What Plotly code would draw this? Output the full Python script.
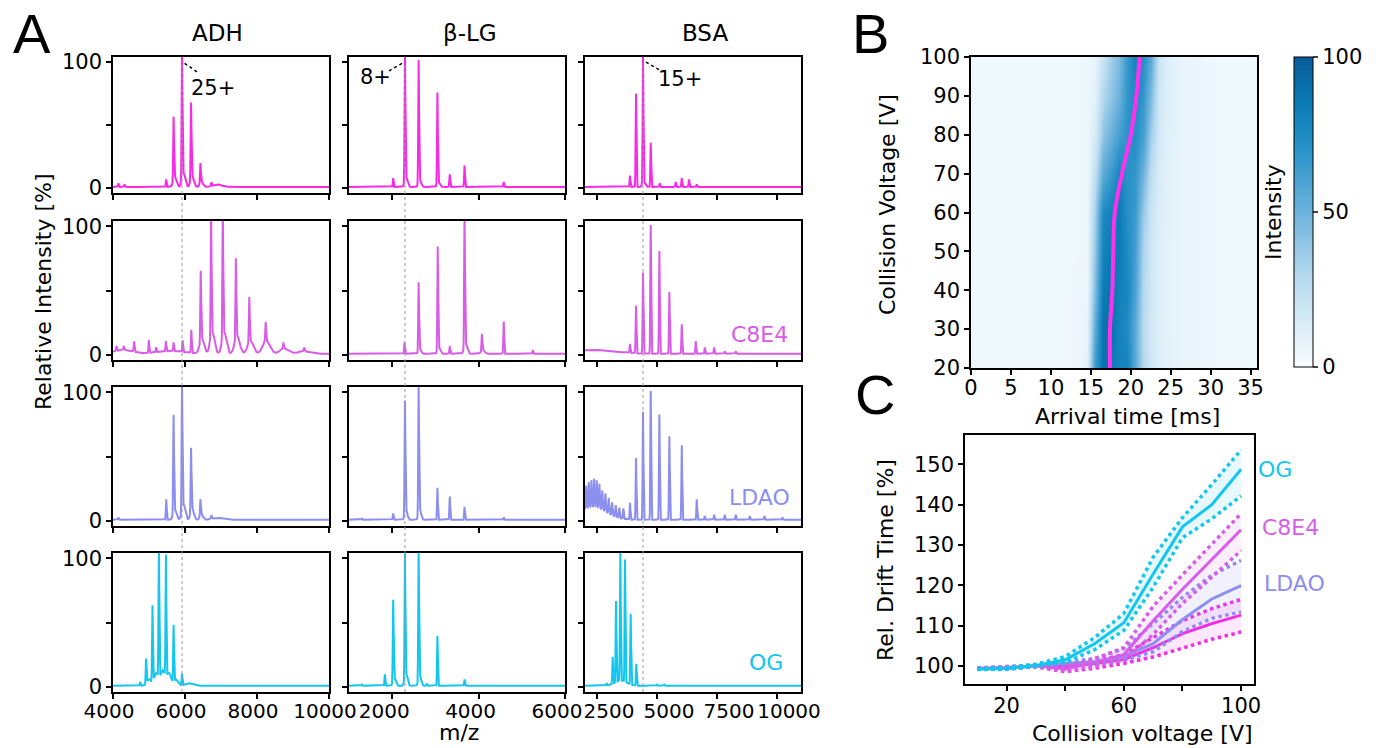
import numpy as np
import plotly.graph_objects as go

W, H = 1380, 748


def px(x):
    return x / W


def py(y):
    return 1 - y / H


# colours of the four conditions
c_ctrl = '#f72ae6'
c_c8e4 = '#d95ce8'
c_ldao = '#8c8ef0'
c_og = '#12c6ee'
row_colors = [c_ctrl, c_c8e4, c_ldao, c_og]

proteins = ['ADH', 'β-LG', 'BSA']

# ---------------- PANEL A: spectra, peak tables (m/z, rel. intensity) --------
# ADH
adh_ctrl = [(4150, 3), (4320, 2), (5479, 6), (5683, 50), (5917, 100), (6168, 60), (6428, 16), (6734, 3)]
adh_ctrl_hump = [(5720, 8, 45), (5960, 11, 45), (6200, 9, 45), (6460, 4, 45), (6900, 2, 120)]
adh_c8e4 = [(4100, 4), (4300, 3), (4586, 8), (4995, 10), (5200, 4), (5470, 8), (5683, 7), (5935, 9),
            (6176, 18), (6437, 54), (6725, 100), (7050, 100), (7413, 62), (7786, 35), (8241, 15),
            (8734, 5), (9310, 3)]
adh_c8e4_hump = [(4300, 3, 250), (5600, 2, 400), (6470, 12, 60), (6760, 17, 60), (7090, 17, 60),
                 (7450, 14, 70), (7820, 10, 80), (8260, 10, 100), (8760, 4, 120), (9300, 2, 150)]
adh_ldao = [(4150, 2), (5479, 16), (5683, 76), (5917, 100), (6168, 49), (6428, 13), (6734, 3)]
adh_ldao_hump = [(5720, 8, 45), (5960, 12, 45), (6200, 9, 45), (6460, 4, 45), (6900, 1.5, 150)]
adh_og = [(4753, 3), (4921, 19), (5097, 59), (5275, 100), (5470, 94), (5683, 44), (5917, 9)]
adh_og_hump = [(5000, 5, 60), (5200, 10, 60), (5380, 12, 60), (5550, 10, 60), (5750, 5, 60), (6100, 2, 100)]

# beta-lactoglobulin
blg_ctrl = [(2023, 7), (2295, 100), (2612, 97), (3047, 72), (3333, 10), (3675, 17), (4582, 4)]
blg_ctrl_hump = [(2320, 8, 30), (2640, 6, 30), (3070, 4, 30)]
blg_c8e4 = [(2287, 9), (2612, 53), (3054, 80), (3333, 6), (3675, 100), (4077, 13), (4582, 25), (5256, 3)]
blg_c8e4_hump = [(2640, 4, 30), (3080, 5, 30), (3700, 8, 35), (4100, 3, 40)]
blg_ldao = [(1300, 1), (2023, 5), (2295, 87), (2612, 100), (3047, 25), (3333, 18), (3675, 10), (4582, 2)]
blg_ldao_hump = [(2320, 8, 30), (2640, 8, 30)]
blg_og = [(1300, 1), (1830, 9), (2023, 63), (2295, 96), (2612, 100), (2800, 2), (3047, 39), (3675, 5)]
blg_og_hump = [(2050, 6, 30), (2320, 10, 30), (2640, 8, 30)]

# BSA
bsa_ctrl = [(3876, 9), (4126, 74), (4418, 100), (4739, 35), (5114, 3), (5781, 4), (6032, 7), (6336, 6), (6657, 2)]
bsa_ctrl_hump = [(4450, 4, 60)]
bsa_c8e4 = [(3876, 7), (4126, 37), (4418, 63), (4739, 100), (5098, 80), (5515, 48), (6032, 23),
            (6615, 10), (6991, 5), (7379, 5), (7824, 2), (8283, 2)]
bsa_c8e4_hump = [(2300, 3, 900)]
bsa_ldao = [(2050, 18), (2160, 20), (2270, 21), (2380, 22), (2490, 21), (2600, 19), (2720, 15), (2850, 14),
            (2990, 12), (3130, 10), (3280, 9), (3430, 8), (3600, 8), (3876, 13), (4126, 48), (4418, 84),
            (4739, 100), (5098, 82), (5515, 65), (6032, 58), (6657, 16), (6991, 3), (7379, 4), (7824, 4),
            (8283, 4), (8866, 3), (9477, 3), (10228, 2)]
bsa_ldao_hump = [(2350, 10, 550)]
bsa_og = [(2900, 2), (3154, 21), (3292, 63), (3472, 100), (3668, 95), (3905, 55), (4139, 17), (5000, 1), (5300, 1)]
bsa_og_hump = [(3500, 4, 250)]

spectra = [
    [(adh_ctrl, adh_ctrl_hump), (blg_ctrl, blg_ctrl_hump), (bsa_ctrl, bsa_ctrl_hump)],
    [(adh_c8e4, adh_c8e4_hump), (blg_c8e4, blg_c8e4_hump), (bsa_c8e4, bsa_c8e4_hump)],
    [(adh_ldao, adh_ldao_hump), (blg_ldao, blg_ldao_hump), (bsa_ldao, bsa_ldao_hump)],
    [(adh_og, adh_og_hump), (blg_og, blg_og_hump), (bsa_og, bsa_og_hump)],
]

mz_ranges = [[4000, 10000], [1000, 6000], [2000, 11000]]
mz_ticks = [[4000, 6000, 8000, 10000], [2000, 4000, 6000], [2500, 5000, 7500, 10000]]
mz_label_shift = [-4, -8, 12]
peak_sigma = [11, 9, 16]
ref_peak = [5917, 2295, 4418]   # 25+, 8+, 15+

col_x = [(113, 329), (349, 565), (585, 801)]
row_y = [(57, 193), (221, 360), (387, 526), (553, 692)]

# ---------------- PANEL B: arrival time heat map ----------------
drift_voltage = [20, 30, 40, 50, 60, 70, 80, 90, 100]
arrival_time = [i + 0.5 for i in range(36)]
atd = [
    [4, 4, 4, 4, 4, 4, 4, 4, 4, 4, 4, 4, 4, 5, 10, 65, 90, 85, 80, 80, 55, 30, 18, 12, 10, 8, 7, 6, 6, 5, 4, 4, 4, 4, 4, 4],
    [4, 4, 4, 4, 4, 4, 4, 4, 4, 4, 4, 4, 4, 5, 8, 55, 90, 90, 80, 75, 55, 28, 17, 12, 9, 8, 7, 6, 6, 5, 4, 4, 4, 4, 4, 4],
    [4, 4, 4, 4, 4, 4, 4, 4, 4, 4, 4, 4, 4, 5, 6, 45, 85, 88, 82, 78, 60, 30, 18, 12, 9, 8, 7, 6, 6, 5, 4, 4, 4, 4, 4, 4],
    [4, 4, 4, 4, 4, 4, 4, 4, 4, 4, 4, 4, 4, 4, 5, 40, 80, 85, 85, 75, 62, 32, 18, 12, 9, 8, 7, 6, 6, 5, 4, 4, 4, 4, 4, 4],
    [4, 4, 4, 4, 4, 4, 4, 4, 4, 4, 4, 4, 4, 4, 5, 35, 75, 82, 85, 72, 65, 38, 20, 13, 10, 8, 7, 6, 6, 5, 4, 4, 4, 4, 4, 4],
    [4, 4, 4, 4, 4, 4, 4, 4, 4, 4, 4, 4, 4, 4, 5, 25, 55, 65, 78, 70, 68, 50, 25, 14, 10, 8, 7, 6, 6, 5, 4, 4, 4, 4, 4, 4],
    [4, 4, 4, 4, 4, 4, 4, 4, 4, 4, 4, 4, 4, 4, 5, 15, 40, 50, 62, 70, 72, 62, 35, 16, 11, 9, 7, 6, 6, 5, 4, 4, 4, 4, 4, 4],
    [4, 4, 4, 4, 4, 4, 4, 4, 4, 4, 4, 4, 4, 4, 5, 10, 30, 40, 50, 68, 75, 68, 45, 18, 12, 9, 7, 6, 6, 5, 4, 4, 4, 4, 4, 4],
    [4, 4, 4, 4, 4, 4, 4, 4, 4, 4, 4, 4, 4, 4, 5, 8, 20, 35, 45, 65, 80, 72, 55, 20, 12, 9, 7, 6, 6, 5, 4, 4, 4, 4, 4, 4],
]
atd_max = [17.4, 17.4, 17.7, 17.8, 18.0, 18.9, 20.0, 20.7, 21.1]

# ---------------- PANEL C: relative drift time ----------------
cv = [10, 20, 30, 40, 50, 60, 70, 80, 90, 100]
ctrl_mean = [99.3, 99.5, 100.0, 99.8, 100.6, 101.6, 104.5, 108.0, 110.5, 112.6]
ctrl_up = [99.4, 99.7, 100.2, 100.4, 101.2, 102.8, 107.0, 111.2, 114.2, 116.5]
ctrl_lo = [99.2, 99.3, 99.8, 98.6, 99.4, 100.6, 102.2, 104.3, 106.6, 108.4]
ldao_mean = [99.3, 99.3, 100.0, 100.6, 101.0, 102.4, 105.5, 111.5, 116.6, 119.9]
ldao_up = [99.4, 99.5, 100.2, 101.0, 101.8, 104.3, 110.5, 117.0, 122.5, 126.2]
ldao_lo = [99.2, 99.1, 99.8, 100.2, 100.4, 101.4, 103.5, 108.5, 111.8, 113.4]
c8e4_mean = [99.4, 99.6, 100.0, 99.2, 100.8, 102.8, 111.2, 119.0, 126.4, 133.8]
c8e4_up = [99.5, 99.8, 100.2, 99.8, 101.8, 104.5, 114.8, 122.6, 130.2, 137.8]
c8e4_lo = [99.3, 99.4, 99.8, 98.5, 99.8, 101.5, 107.8, 115.5, 122.0, 128.6]
og_mean = [99.2, 99.4, 100.1, 101.5, 105.5, 110.7, 122.8, 134.5, 140.0, 148.8]
og_up = [99.3, 99.6, 100.4, 102.3, 107.0, 113.0, 127.0, 136.8, 145.0, 153.6]
og_lo = [99.1, 99.2, 99.9, 100.8, 104.0, 108.8, 119.5, 131.8, 136.5, 142.2]

# ------------------------------------------------------------------
FONT = 'DejaVu Sans'
tickfont = dict(family=FONT, size=21, color='black')
fig = go.Figure()
layout = {}


def axis_style(**kw):
    d = dict(showline=True, mirror=True, linecolor='black', linewidth=1.5, ticks='outside',
             ticklen=5, tickwidth=1.5, tickcolor='black', showgrid=False, zeroline=False,
             tickfont=tickfont, automargin=False, tickangle=0)
    d.update(kw)
    return d


# spectra
for r in range(4):
    for c in range(3):
        k = r * 3 + c + 1
        peaks, humps = spectra[r][c]
        mz = np.linspace(mz_ranges[c][0], mz_ranges[c][1], 4000)
        inten = np.full_like(mz, 0.8)
        for m, h in peaks:
            inten += h * np.exp(-0.5 * ((mz - m) / peak_sigma[c]) ** 2)
        for m, h, s in humps:
            inten += h * np.exp(-0.5 * ((mz - m) / s) ** 2)
        fig.add_trace(go.Scatter(x=mz, y=inten, mode='lines', line=dict(color=row_colors[r], width=2),
                                 xaxis=f'x{k}', yaxis=f'y{k}', showlegend=False, hoverinfo='skip'))
        layout[f'xaxis{k}'] = axis_style(domain=[px(col_x[c][0]), px(col_x[c][1])], anchor=f'y{k}',
                                         range=mz_ranges[c], tickvals=mz_ticks[c],
                                         ticktext=[str(t) for t in mz_ticks[c]],
                                         ticklabelshift=mz_label_shift[c], ticklabelstandoff=-5,
                                         tickfont=dict(family=FONT, size=20, color='black'),
                                         showticklabels=(r == 3))
        layout[f'yaxis{k}'] = axis_style(domain=[py(row_y[r][1]), py(row_y[r][0])], anchor=f'x{k}',
                                         range=[-4, 104], tickvals=[0, 50, 100],
                                         ticktext=['0', '', '100'], showticklabels=(c == 0))

# charge state leaders
leaders = [(1, [5990, 6390], [99, 91]), (2, [1925, 2230], [93, 99]), (3, [4542, 5167], [100, 93])]
for k, lx, ly in leaders:
    fig.add_trace(go.Scatter(x=lx, y=ly, mode='lines', line=dict(color='black', width=1.5, dash='dot'),
                             xaxis=f'x{k}', yaxis=f'y{k}', showlegend=False, hoverinfo='skip'))

# heat map
fig.add_trace(go.Heatmap(
    x=arrival_time, y=drift_voltage, z=atd, zmin=0, zmax=100, zsmooth='best',
    xaxis='x13', yaxis='y13', hoverinfo='skip',
    colorscale=[[0, '#f8fcff'], [0.1, '#e2f1fa'], [0.3, '#b3d8ee'], [0.5, '#6cb2dc'],
                [0.7, '#2a92c8'], [0.85, '#0b7bb6'], [1, '#075c98']],
    colorbar=dict(x=px(1294), xanchor='left', xpad=0, y=py(212), yanchor='middle', ypad=0,
                  len=310 / H, lenmode='fraction', thickness=19, thicknessmode='pixels',
                  tickvals=[0, 50, 100], ticks='outside', ticklen=5, tickwidth=1.5,
                  outlinewidth=1, outlinecolor='black', tickfont=tickfont)))
fig.add_trace(go.Scatter(x=atd_max, y=drift_voltage, mode='lines', line=dict(color='#ff30ee', width=4, shape='spline'),
                         xaxis='x13', yaxis='y13', showlegend=False, hoverinfo='skip'))
layout['xaxis13'] = axis_style(domain=[px(971), px(1257)], anchor='y13', range=[0, 35.8],
                               tickvals=[0, 5, 10, 15, 20, 25, 30, 35], ticklabelstandoff=-5)
layout['yaxis13'] = axis_style(domain=[py(368), py(57)], anchor='x13', range=[20, 100],
                               tickvals=[20, 30, 40, 50, 60, 70, 80, 90, 100])

# drift time curves
groups = [(ctrl_mean, ctrl_up, ctrl_lo, c_ctrl, 'rgba(247,42,230,0.10)'),
          (ldao_mean, ldao_up, ldao_lo, c_ldao, 'rgba(140,142,240,0.12)'),
          (c8e4_mean, c8e4_up, c8e4_lo, c_c8e4, 'rgba(217,92,232,0.10)'),
          (og_mean, og_up, og_lo, c_og, 'rgba(18,198,238,0.10)')]
for mean, up, lo, col, fill in groups:
    fig.add_trace(go.Scatter(x=cv, y=lo, mode='lines', line=dict(color=col, width=3.5, dash='dot'),
                             xaxis='x14', yaxis='y14', showlegend=False, hoverinfo='skip'))
    fig.add_trace(go.Scatter(x=cv, y=up, mode='lines', line=dict(color=col, width=3.5, dash='dot'),
                             fill='tonexty', fillcolor=fill,
                             xaxis='x14', yaxis='y14', showlegend=False, hoverinfo='skip'))
    fig.add_trace(go.Scatter(x=cv, y=mean, mode='lines', line=dict(color=col, width=3),
                             xaxis='x14', yaxis='y14', showlegend=False, hoverinfo='skip'))
layout['xaxis14'] = axis_style(domain=[px(965), px(1254)], anchor='y14', range=[5.8, 104.4],
                               tickvals=[20, 40, 60, 80, 100], ticktext=['20', '', '60', '', '100'],
                               ticklabelstandoff=-3)
layout['yaxis14'] = axis_style(domain=[py(684), py(435)], anchor='x14', range=[95.5, 157.3],
                               tickvals=[100, 110, 120, 130, 140, 150])

# reference lines through all rows
shapes = []
for c in range(3):
    shapes.append(dict(type='line', xref=f'x{c + 1}', yref='paper', x0=ref_peak[c], x1=ref_peak[c],
                       y0=py(692), y1=py(62), line=dict(color='#9a9a9a', width=1, dash='dot')))


def txt(s, x, y, size=22, color='black', angle=0, family=FONT):
    return dict(text=s, x=px(x), y=py(y), xref='paper', yref='paper', showarrow=False,
                xanchor='center', yanchor='middle', textangle=angle,
                font=dict(family=family, size=size, color=color))


annotations = [
    txt('A', 32, 34, 56, family='Liberation Sans'),
    txt('B', 870, 34, 56, family='Liberation Sans'),
    txt('C', 875, 394, 56, family='Liberation Sans'),
    txt(proteins[0], 217, 33, 23),
    txt(proteins[1], 470, 33, 23),
    txt(proteins[2], 705, 33, 23),
    txt('25+', 213, 88, 21),
    txt('8+', 375, 77, 21),
    txt('15+', 680, 79, 21),
    txt('C8E4', 759, 334, 22, c_c8e4),
    txt('LDAO', 759, 497, 22, c_ldao),
    txt('OG', 766, 662, 22, c_og),
    txt('Relative Intensity [%]', 43, 292, 22, angle=-90),
    txt('m/z', 459, 732, 22),
    txt('Collision Voltage [V]', 887, 205, 22, angle=-90),
    txt('Arrival time [ms]', 1127, 416, 22),
    txt('Intensity', 1273, 212, 22, angle=-90),
    txt('Rel. Drift Time [%]', 885, 560, 22, angle=-90),
    txt('Collision voltage [V]', 1142, 733, 22),
    txt('OG', 1275, 470, 22, c_og),
    txt('C8E4', 1290, 527, 22, c_c8e4),
    txt('LDAO', 1294, 583, 22, c_ldao),
]

fig.update_layout(template='none', width=W, height=H, margin=dict(l=0, r=0, t=0, b=0),
                  paper_bgcolor='white', plot_bgcolor='white', showlegend=False,
                  shapes=shapes, annotations=annotations, **layout)
fig.write_html("out.html", config={'displayModeBar': False},
               post_script="document.body.style.margin='0px';")
